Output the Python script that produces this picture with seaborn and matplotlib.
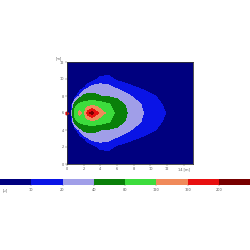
import numpy as np
import matplotlib
matplotlib.use("Agg")
import matplotlib.pyplot as plt
from matplotlib.colors import ListedColormap, BoundaryNorm
import seaborn as sns

sns.set_theme(style="ticks")
plt.rcParams['font.family'] = ['DejaVu Sans']

# grid coordinates [m]
xs = [0, 0.5, 1, 1.5, 2, 2.5, 3, 3.5, 4, 5, 6, 7, 8, 9, 10, 11, 12, 13, 14, 15]
ys = [0, 1, 2, 3, 4, 5, 5.5, 6, 6.5, 7, 8, 9, 10, 11, 12]

# field values, one row per y
row_y0 = [0, 0, 0, 0, 0, 0, 0, 0, 0, 0, 0, 0, 0, 0, 0, 0, 0, 0, 0, 0]
row_y1 = [0, 0, 0, 0, 0, 0, 1, 3, 5, 6, 4, 3, 2, 1.5, 1, 1, 0.5, 0.5, 0, 0]
row_y2 = [0, 0, 0, 0, 0, 1, 3, 9, 12, 13, 8, 6, 4, 3, 2, 1.5, 1, 1, 0.5, 0.5]
row_y3 = [0, 0, 0, 2, 8, 18, 25, 26, 26, 23, 18, 14, 11, 8.5, 6, 4, 3, 2, 1, 1]
row_y4 = [0, 0, 3, 22, 45, 50, 48, 44, 40, 36, 30, 24, 18, 15, 12, 9, 6, 4, 3, 2]
row_y5 = [1, 1, 60, 90, 95, 100, 110, 105, 100, 84, 60, 38, 27, 19, 14, 11, 8.5, 5.5, 3.5, 2.5]
row_y55 = [1, 2, 90, 115, 95, 140, 160, 140, 120, 90, 67, 41, 29, 20, 14.5, 11.5, 9, 6, 4, 3]
row_y6 = [1, 2, 100, 130, 105, 190, 215, 175, 150, 97, 72, 43, 30, 21, 15, 12, 9.5, 6, 4, 3]
row_y65 = [1, 2, 90, 115, 95, 140, 160, 140, 120, 90, 67, 41, 29, 20, 14.5, 11.5, 9, 6, 4, 3]
row_y7 = [1, 1, 60, 90, 95, 100, 110, 105, 100, 84, 60, 38, 27, 19, 14, 11, 8.5, 5.5, 3.5, 2.5]
row_y8 = [0, 0, 3, 22, 45, 50, 48, 44, 40, 36, 30, 24, 18, 15, 12, 9, 6, 4, 3, 2]
row_y9 = [0, 0, 0, 2, 8, 18, 25, 26, 26, 23, 18, 14, 11, 8.5, 6, 4, 3, 2, 1, 1]
row_y10 = [0, 0, 0, 0, 0, 1, 3, 9, 12, 13, 8, 6, 4, 3, 2, 1.5, 1, 1, 0.5, 0.5]
row_y11 = [0, 0, 0, 0, 0, 0, 1, 3, 5, 6, 4, 3, 2, 1.5, 1, 1, 0.5, 0.5, 0, 0]
row_y12 = [0, 0, 0, 0, 0, 0, 0, 0, 0, 0, 0, 0, 0, 0, 0, 0, 0, 0, 0, 0]

levels = [0, 10, 20, 40, 80, 120, 160, 200, 1000]
level_labels = ["10", "20", "40", "80", "120", "160", "200"]
colors = ["#00007f", "#0a14e6", "#a09ee8", "#0a800a", "#3cdc3c",
          "#f08a5a", "#e81010", "#780000"]
x_ticks = [0, 2, 4, 6, 8, 10, 12, 14]
y_ticks = [0, 2, 4, 6, 8, 10, 12]

Z = np.array([row_y0, row_y1, row_y2, row_y3, row_y4, row_y5, row_y55, row_y6,
              row_y65, row_y7, row_y8, row_y9, row_y10, row_y11, row_y12])

cmap = ListedColormap(colors)
norm = BoundaryNorm(levels, cmap.N)

fig = plt.figure(figsize=(2.5, 2.5), dpi=100)
ax = fig.add_axes([0.268, 0.344, 0.504, 0.408])
ax.contourf(xs, ys, Z, levels=levels, cmap=cmap, norm=norm)
ax.set_xlim(0, 15.1)
ax.set_ylim(0, 12)
ax.set_xticks(x_ticks)
ax.set_yticks(y_ticks)
ax.set_xticklabels([str(t) for t in x_ticks[:-1]] + ["14 [m]"])
ax.tick_params(labelsize=2.5, length=1.2, width=0.3, pad=1, colors="#555555")
for s in ax.spines.values():
    s.set_linewidth(0.6)
    s.set_color("#333333")
ax.text(-0.04, 1.02, "[m]", transform=ax.transAxes, fontsize=2.5,
        color="#555555", ha="right", va="bottom")
ax.plot([0], [6], marker=">", color="#e81010", markersize=2, clip_on=False)

cax = fig.add_axes([0.0, 0.26, 1.0, 0.024])
cb = fig.colorbar(plt.cm.ScalarMappable(norm=norm, cmap=cmap), cax=cax,
                  orientation="horizontal", spacing="uniform")
cb.set_ticks(levels[1:-1])
cb.set_ticklabels(level_labels)
cb.minorticks_off()
cb.outline.set_visible(False)
cax.tick_params(labelsize=2.5, length=1, width=0.3, pad=1, colors="#555555")
fig.text(0.012, 0.245, "[u]", fontsize=2.5, color="#555555", ha="left", va="top")

fig.savefig("out.png", dpi=100, facecolor="white")
